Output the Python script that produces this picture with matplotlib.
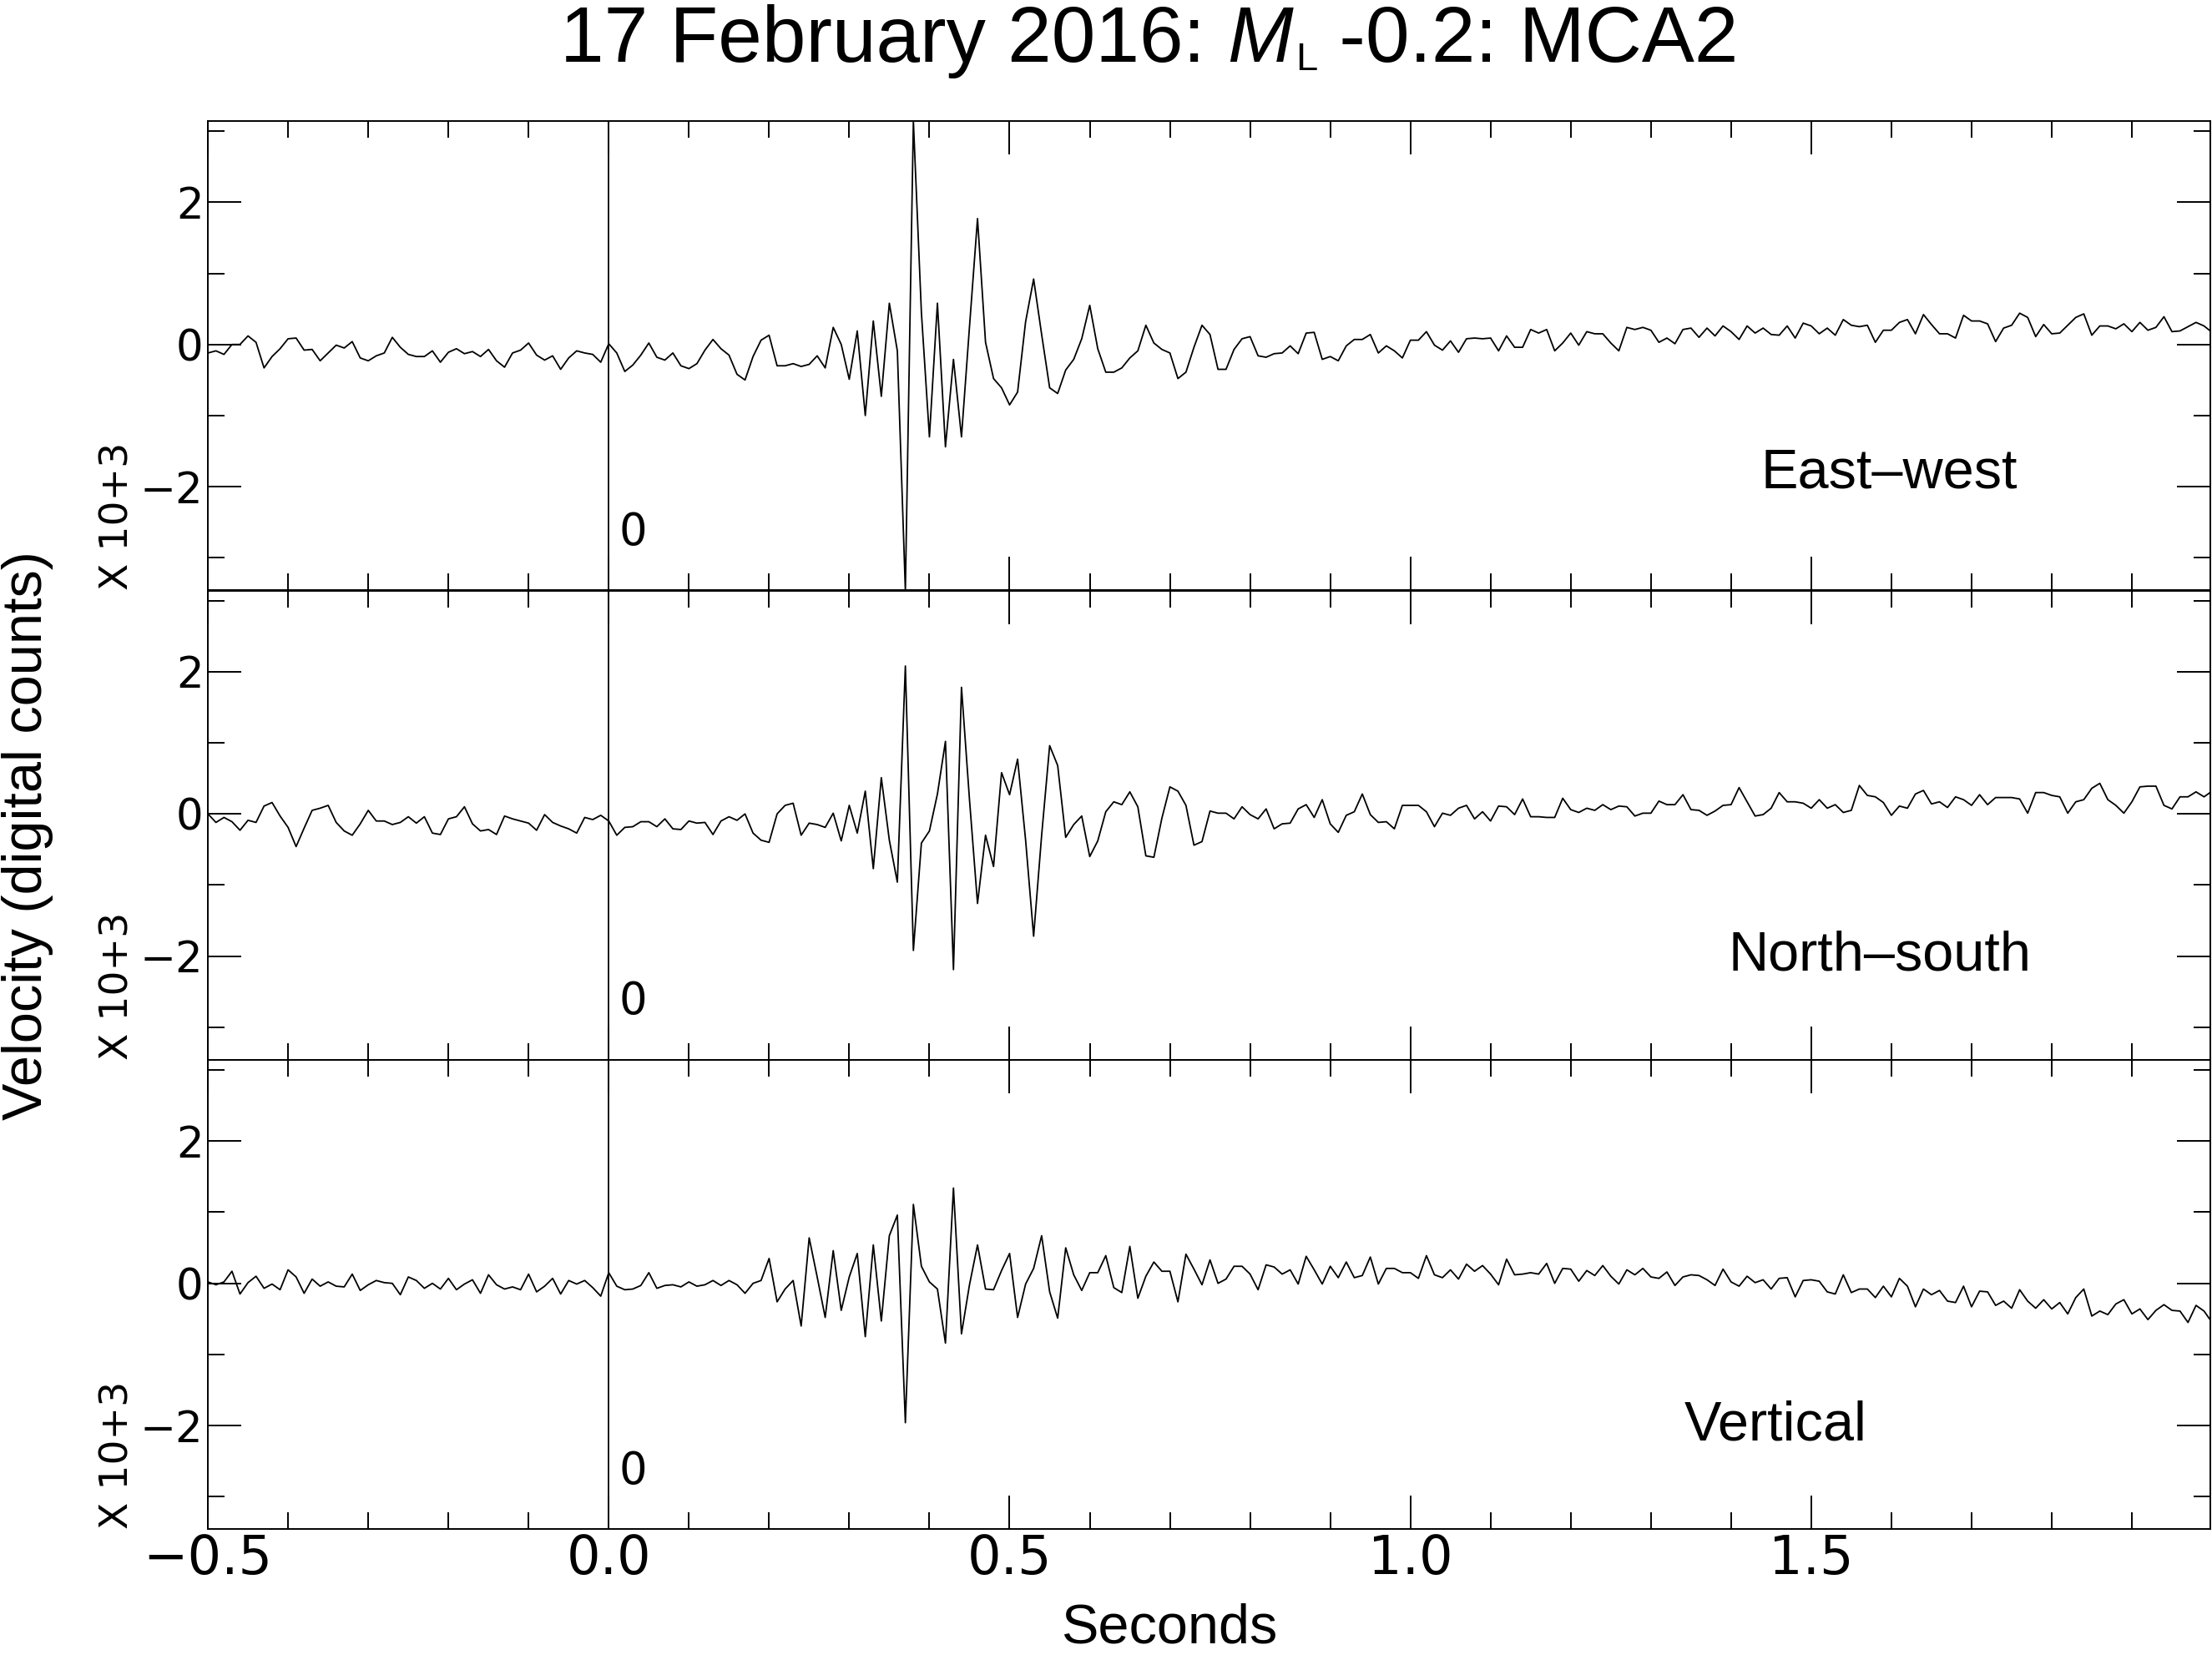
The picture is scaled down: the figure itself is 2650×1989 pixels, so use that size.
import numpy as np
import matplotlib.pyplot as plt
from matplotlib.ticker import MultipleLocator

# sampling of the record: 100 samples per second starting at -0.5 s
start_time = -0.5
sample_rate = 100.0

# velocity in thousands of digital counts (axis reads "X 10+3")
east_west = [
    -0.12, -0.09, -0.14, 0.00, 0.00, 0.12, 0.03, -0.33, -0.17, -0.06,
    0.08, 0.09, -0.08, -0.07, -0.23, -0.12, -0.01, -0.05, 0.04, -0.19,
    -0.23, -0.16, -0.12, 0.10, -0.04, -0.14, -0.17, -0.17, -0.09, -0.25,
    -0.11, -0.06, -0.13, -0.10, -0.17, -0.07, -0.23, -0.32, -0.12, -0.08,
    0.02, -0.15, -0.22, -0.16, -0.35, -0.19, -0.09, -0.12, -0.14, -0.25,
    0.01, -0.12, -0.38, -0.29, -0.15, 0.02, -0.18, -0.22, -0.12, -0.30,
    -0.34, -0.27, -0.08, 0.07, -0.06, -0.15, -0.42, -0.50, -0.17, 0.06,
    0.13, -0.30, -0.30, -0.27, -0.31, -0.28, -0.16, -0.33, 0.24, 0.00,
    -0.49, 0.19, -1.00, 0.33,
    -0.73, 0.58, -0.09, -3.46, 3.14, 0.45, -1.30, 0.58, -1.44, -0.21,
    -1.30, 0.25, 1.77, 0.03, -0.48, -0.61, -0.85, -0.67, 0.32, 0.92,
    0.14, -0.61, -0.69, -0.36, -0.21, 0.08, 0.55, -0.06, -0.39, -0.39,
    -0.33, -0.19, -0.09, 0.27, 0.02, -0.07, -0.12, -0.48, -0.39, -0.04,
    0.27, 0.14, -0.35, -0.35, -0.07, 0.08, 0.11, -0.16, -0.18, -0.13,
    -0.12, -0.02, -0.13, 0.16, 0.17, -0.21, -0.17, -0.23, -0.02, 0.07,
    0.07, 0.14, -0.12, -0.02, -0.09, -0.19, 0.06, 0.06, 0.18, -0.01,
    -0.08, 0.05, -0.11, 0.08, 0.09, 0.08, 0.09, -0.09, 0.12, -0.04,
    -0.04, 0.21, 0.16,
    0.21, -0.09, 0.02, 0.16, -0.01, 0.18, 0.15, 0.15, 0.02, -0.09,
    0.24, 0.21, 0.24, 0.20, 0.03, 0.09, 0.01, 0.21, 0.23, 0.10,
    0.23, 0.12, 0.26, 0.18, 0.07, 0.26, 0.16, 0.23, 0.14, 0.13,
    0.26, 0.09, 0.30, 0.26, 0.15, 0.23, 0.13, 0.35, 0.27, 0.25,
    0.27, 0.03, 0.20, 0.20, 0.31, 0.35, 0.15, 0.42, 0.28, 0.15,
    0.15, 0.09, 0.41, 0.33, 0.33, 0.29, 0.04, 0.23, 0.27, 0.44,
    0.38, 0.11, 0.28, 0.15, 0.16, 0.27, 0.38, 0.43, 0.13, 0.26,
    0.26, 0.22, 0.29, 0.18, 0.31, 0.20, 0.24, 0.39, 0.18, 0.19,
    0.25, 0.31, 0.26, 0.17,
]

north_south = [
    0.00, -0.12, -0.05, -0.11, -0.23, -0.09, -0.12, 0.11, 0.16, -0.03,
    -0.19, -0.46, -0.20, 0.05, 0.08, 0.12, -0.12, -0.24, -0.30, -0.14,
    0.05, -0.10, -0.10, -0.15, -0.12, -0.04, -0.13, -0.04, -0.27, -0.29,
    -0.07, -0.04, 0.10, -0.14, -0.24, -0.22, -0.29, -0.03, -0.07, -0.10,
    -0.13, -0.23, -0.01, -0.12, -0.17, -0.21, -0.27, -0.05, -0.08, -0.02,
    -0.10, -0.30, -0.19, -0.18, -0.11, -0.11, -0.18, -0.07, -0.21, -0.22,
    -0.10, -0.13, -0.12, -0.29, -0.10, -0.04, -0.09, 0.00, -0.27, -0.37,
    -0.40, 0.00, 0.12, 0.15, -0.30, -0.13, -0.15, -0.19, 0.01, -0.38,
    0.12, -0.27, 0.32, -0.77,
    0.51, -0.37, -0.96, 2.08, -1.92, -0.41, -0.24, 0.28, 1.02, -2.19,
    1.78, 0.20, -1.26, -0.30, -0.74, 0.58, 0.27, 0.77, -0.37, -1.72,
    -0.30, 0.96, 0.68, -0.33, -0.15, -0.03, -0.60, -0.38, 0.03, 0.17,
    0.13, 0.31, 0.10, -0.59, -0.61, -0.06, 0.38, 0.32, 0.12, -0.44,
    -0.39, 0.04, 0.01, 0.01, -0.07, 0.10, -0.01, -0.07, 0.07, -0.21,
    -0.14, -0.13, 0.07, 0.13, -0.05, 0.20, -0.14, -0.26, -0.02, 0.03,
    0.28, -0.01, -0.12, -0.11, -0.21, 0.12, 0.12, 0.12, 0.03, -0.18,
    0.01, -0.02, 0.08, 0.12, -0.07, 0.03, -0.10, 0.11, 0.10, -0.01,
    0.21, -0.04, -0.04,
    -0.05, -0.05, 0.22, 0.06, 0.02, 0.08, 0.05, 0.13, 0.06, 0.11,
    0.10, -0.03, 0.01, 0.01, 0.18, 0.13, 0.13, 0.27, 0.06, 0.05,
    -0.02, 0.04, 0.12, 0.13, 0.37, 0.17, -0.03, -0.01, 0.08, 0.30,
    0.17, 0.17, 0.15, 0.08, 0.20, 0.08, 0.13, 0.02, 0.05, 0.40,
    0.26, 0.24, 0.16, -0.02, 0.11, 0.08, 0.28, 0.33, 0.14, 0.17,
    0.09, 0.24, 0.20, 0.12, 0.27, 0.13, 0.23, 0.23, 0.23, 0.21,
    0.01, 0.30, 0.30, 0.26, 0.24, 0.01, 0.17, 0.20, 0.36, 0.43,
    0.20, 0.12, 0.01, 0.17, 0.38, 0.39, 0.39, 0.12, 0.07, 0.24,
    0.24, 0.31, 0.24, 0.32,
]

vertical = [
    0.02, -0.02, 0.02, 0.17, -0.15, 0.01, 0.10, -0.07, -0.01, -0.09,
    0.19, 0.09, -0.14, 0.06, -0.04, 0.02, -0.04, -0.05, 0.13, -0.10,
    -0.02, 0.04, 0.01, 0.00, -0.16, 0.09, 0.04, -0.07, 0.00, -0.08,
    0.07, -0.09, -0.01, 0.05, -0.14, 0.12, -0.02, -0.08, -0.05, -0.09,
    0.13, -0.12, -0.04, 0.07, -0.15, 0.04, -0.01, 0.04, -0.06, -0.18,
    0.15, -0.04, -0.09, -0.08, -0.03, 0.15, -0.07, -0.03, -0.02, -0.05,
    0.02, -0.04, -0.02, 0.04, -0.03, 0.04, -0.02, -0.14, 0.00, 0.04,
    0.35, -0.26, -0.08, 0.04, -0.60, 0.64, 0.09, -0.48, 0.46, -0.38,
    0.09, 0.42, -0.75, 0.54,
    -0.53, 0.67, 0.96, -1.96, 1.11, 0.24, 0.02, -0.08, -0.84, 1.34,
    -0.71, -0.02, 0.54, -0.08, -0.09, 0.18, 0.42, -0.48, -0.01, 0.21,
    0.67, -0.12, -0.49, 0.50, 0.12, -0.10, 0.15, 0.15, 0.39, -0.06,
    -0.13, 0.52, -0.21, 0.10, 0.30, 0.17, 0.17, -0.26, 0.41, 0.20,
    -0.02, 0.33, 0.00, 0.06, 0.24, 0.24, 0.13, -0.09, 0.26, 0.23,
    0.13, 0.19, -0.01, 0.38, 0.19, -0.01, 0.24, 0.08, 0.30, 0.08,
    0.11, 0.37, -0.01, 0.21, 0.21, 0.15, 0.15, 0.07, 0.39, 0.12,
    0.08, 0.19, 0.06, 0.27, 0.17, 0.25, 0.13, -0.02, 0.34, 0.12,
    0.13, 0.15, 0.13,
    0.28, 0.00, 0.21, 0.20, 0.03, 0.18, 0.11, 0.25, 0.10, -0.01,
    0.19, 0.12, 0.21, 0.09, 0.07, 0.16, -0.03, 0.09, 0.12, 0.11,
    0.05, -0.03, 0.20, 0.02, -0.04, 0.10, 0.01, 0.05, -0.08, 0.07,
    0.08, -0.19, 0.04, 0.05, 0.03, -0.12, -0.15, 0.12, -0.13, -0.08,
    -0.08, -0.20, -0.04, -0.19, 0.07, -0.04, -0.33, -0.08, -0.16, -0.10,
    -0.25, -0.27, -0.04, -0.33, -0.11, -0.12, -0.31, -0.25, -0.35, -0.09,
    -0.25, -0.35, -0.23, -0.36, -0.27, -0.43, -0.20, -0.08, -0.46, -0.39,
    -0.44, -0.29, -0.23, -0.43, -0.36, -0.51, -0.38, -0.30, -0.38, -0.39,
    -0.55, -0.31, -0.39, -0.55,
]

components = ["East\u2013west", "North\u2013south", "Vertical"]
comp_x = [1.597, 1.585, 1.455]
comp_y = [-2.02, -2.20, -2.21]
pick_time = 0.0
pick_name = "0"
pick_bottom = -3.14

traces = [east_west, north_south, vertical]
t = start_time + np.arange(len(east_west)) / sample_rate

plt.rcParams['font.family'] = ['Liberation Sans', 'DejaVu Sans']
# narrow face for the axis numbers, falling back if not installed
thin = ['Liberation Sans Narrow', 'DejaVu Sans Condensed', 'DejaVu Sans']

fig = plt.figure(figsize=(26.5, 19.89), dpi=100)

ylo, yhi = min(east_west), max(east_west)
bottoms = [0.6443, 0.3615, 0.0787]
axes = []
for i, trace in enumerate(traces):
    ax = fig.add_axes([0.094, bottoms[i], 0.9053, 0.2827])
    axes.append(ax)
    ax.plot(t, trace, color='black', lw=1.3)
    ax.set_xlim(-0.5, 1.998)
    ax.set_ylim(ylo, yhi)
    ax.vlines(pick_time, pick_bottom, yhi, color='black', lw=1.3)
    ax.text(pick_time + 0.03, -2.82, pick_name, family=thin, fontsize=38,
            ha='center', va='baseline')
    ax.text(comp_x[i], comp_y[i], components[i], fontsize=48,
            ha='center', va='baseline')
    ax.text(-0.045, 0.0, 'X 10+3', transform=ax.transAxes, rotation=90,
            ha='center', va='bottom', family=thin, fontsize=34)

    ax.xaxis.set_major_locator(MultipleLocator(0.5))
    ax.xaxis.set_minor_locator(MultipleLocator(0.1))
    ax.yaxis.set_major_locator(MultipleLocator(2))
    ax.yaxis.set_minor_locator(MultipleLocator(1))
    ax.tick_params(which='both', direction='in', top=True, right=True, width=1.4)
    ax.tick_params(which='major', length=28.8)
    ax.tick_params(which='minor', length=14.4)
    ax.tick_params(axis='y', labelsize=37, pad=4)
    ax.tick_params(axis='x', labelsize=46, pad=3)
    for lab in ax.get_xticklabels() + ax.get_yticklabels():
        lab.set_family(thin)
    if i < 2:
        ax.tick_params(labelbottom=False)
    for s in ax.spines.values():
        s.set_linewidth(1.4)

# title built from pieces so the subscript L stays small
top = axes[0]
t1 = fig.text(0.2532, 0.9628, "17 February 2016: ", fontsize=68,
              ha='left', va='baseline')
tM = top.annotate("M", xy=(1, 0), xycoords=t1, fontsize=68, style='italic',
                  ha='left', va='bottom', annotation_clip=False)
tL = top.annotate("L", xy=(1.04, 0), xycoords=tM, fontsize=34,
                  ha='left', va='bottom', annotation_clip=False)
top.annotate(" -0.2: MCA2", xy=(1, 0), xycoords=(tL, tM), fontsize=68,
             ha='left', va='bottom', annotation_clip=False)

fig.text(0.5287, 0.0345, "Seconds", fontsize=48, ha='center', va='top')
fig.text(0.0125, 0.4967, "Velocity (digital counts)", fontsize=48,
         rotation=90, ha='center', va='center')

fig.savefig('out.png', dpi=100)
